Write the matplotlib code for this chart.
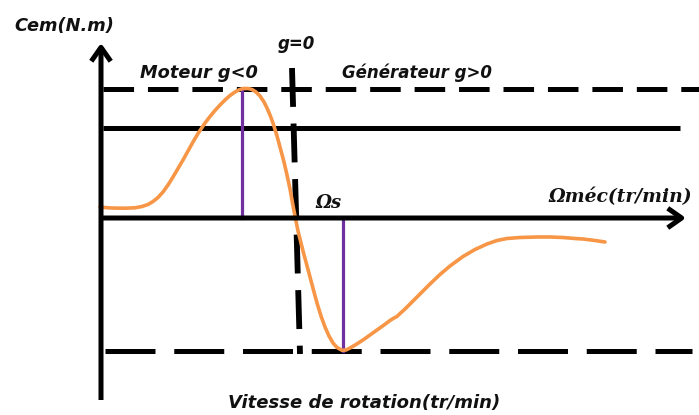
import numpy as np
import matplotlib.pyplot as plt

plt.rcParams['lines.scale_dashes'] = False

# torque / speed curve (schematic, picture coordinates)
curve_x = [100, 108, 115, 125, 135, 142, 148, 153, 158, 163, 168, 173, 178, 183,
           188, 193, 198, 205, 210, 215, 220, 225, 230, 235, 239, 243, 248, 252,
           256, 260, 264, 267, 270, 273, 277, 280, 284, 287, 290, 292, 294, 296,
           298, 300, 303, 306, 310, 314, 317, 321, 325, 329, 333, 337, 342, 346,
           350, 356, 363, 370, 377, 384, 390, 394, 397, 400, 404, 407, 413, 420,
           430, 440, 450, 463, 475, 487, 497, 507, 520, 537, 550, 563, 575, 583,
           595, 605]
curve_y = [207, 207.8, 208.1, 208.2, 207.8, 206.5, 204.5, 201.5, 197.5, 192, 185, 177, 168.5, 160,
           151, 142, 133.5, 123, 116.5, 110.5, 105, 100, 95.5, 92, 89.8, 88.5, 88.5, 89.5,
           92, 96, 102, 108, 115, 123, 136, 147, 162, 175, 189, 200, 211, 221,
           231, 239, 251, 262, 277, 292, 303, 316, 327, 336, 343, 347.5, 350.3, 350,
           348, 344.5, 340, 335, 330, 325, 320.5, 318, 316.5, 313.5, 310, 307, 301, 294,
           284, 274.5, 266, 256.5, 249.5, 244, 240.5, 238.5, 237.5, 237, 237, 237.5, 238.5, 239,
           240.5, 242]

axis_y0 = 218          # speed axis (Cem = 0)
cmax_y = 89            # maximum motor torque
cnom_y = 128           # nominal torque
cmin_y = 351           # maximum generator torque
peak_x = 242
sync_x = 343

labels = {
    'cem': 'Cem(N.m)',
    'g0': 'g=0',
    'mot': 'Moteur g<0',
    'gen': 'Générateur g>0',
    'os': 'Ωs',
    'omega': 'Ωméc(tr/min)',
    'vit': 'Vitesse de rotation(tr/min)',
}

fig = plt.figure(figsize=(6.99, 4.15), dpi=100)
ax = fig.add_axes([0, 0, 1, 1])
ax.set_xlim(0, 699)
ax.set_ylim(415, 0)
ax.axis('off')

lw = 3.6
# axes with arrows
arr = dict(arrowstyle='->,head_length=0.5,head_width=0.35', lw=lw, color='black',
           shrinkA=0, shrinkB=0, mutation_scale=20, capstyle='butt')
ax.annotate('', xy=(101, 43), xytext=(101, 400), arrowprops=arr)
ax.annotate('', xy=(686, axis_y0), xytext=(99, axis_y0), arrowprops=arr)

# horizontal reference lines
ax.plot([103, 699], [cmax_y, cmax_y], color='black', lw=lw, dashes=(22, 10), solid_capstyle='butt')
ax.plot([103, 680], [cnom_y, cnom_y], color='black', lw=lw, solid_capstyle='butt')
ax.plot([105, 692], [cmin_y, cmin_y], color='black', lw=lw, dashes=(36, 13.5))

# g = 0 line
ax.plot([292, 300], [68, 354], color='black', lw=4.2, dashes=(28, 12))

# purple markers
ax.plot([peak_x, peak_x], [cmax_y, axis_y0], color='#7030A0', lw=2.3)
ax.plot([sync_x, sync_x], [axis_y0, cmin_y], color='#7030A0', lw=2.3)

# curve
ax.plot(curve_x, curve_y, color='#F79646', lw=2.6, solid_joinstyle='round',
        solid_capstyle='round')

sans = dict(family='DejaVu Sans', weight='bold', style='oblique', color='#111111')
serif = dict(family='DejaVu Serif', weight='bold', style='italic', color='#111111')
ax.text(14, 26, labels['cem'], fontsize=12.8, va='center', ha='left', **sans)
ax.text(278, 44, labels['g0'], fontsize=12, va='center', ha='left', **sans)
ax.text(140, 73, labels['mot'], fontsize=12.8, va='center', ha='left', **sans)
ax.text(342, 73, labels['gen'], fontsize=12, va='center', ha='left', **sans)
ax.text(315, 203, labels['os'], fontsize=13, va='center', ha='left', **serif)
ax.text(548, 197, labels['omega'], fontsize=13.5, va='center', ha='left', **serif)
ax.text(228, 403, labels['vit'], fontsize=13, va='center', ha='left', **sans)

fig.savefig('out.png', dpi=100)
